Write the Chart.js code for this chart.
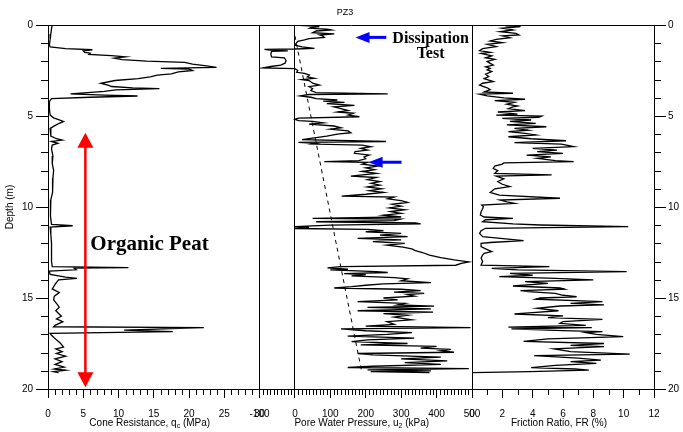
<!DOCTYPE html>
<html>
<head>
<meta charset="utf-8">
<script src="https://cdn.jsdelivr.net/npm/chart.js@4.4.1/dist/chart.umd.min.js"></script>
<style>
  html, body { margin: 0; padding: 0; background: #ffffff; }
  #wrap { width: 683px; height: 432px; }
</style>
</head>
<body>
<div id="wrap"><canvas id="c" width="683" height="432"></canvas></div>
<script>
// ---------------- data ----------------
const depthRange = [0, 20];
const qcRange = [0, 30];
const u2Range = [-100, 500];
const frRange = [0, 12];

// Cone resistance q_c (MPa) vs depth (m)
const qcDepth = [0,0.2,0.5,0.8,1.1,1.2,1.3,1.36,1.42,1.5,
  1.55,1.62,1.68,1.75,1.82,1.9,1.98,2.05,2.15,2.25,
  2.33,2.38,2.42,2.5,2.58,2.68,2.75,2.85,2.95,3.05,
  3.2,3.3,3.38,3.45,3.5,3.57,3.65,3.78,3.85,3.9,
  3.97,4.05,4.2,4.6,4.95,5.1,5.2,5.3,5.4,5.5,
  5.68,6.1,6.25,6.32,6.4,6.5,6.6,6.8,7.2,7.6,
  8.0,8.4,8.8,9.2,9.6,10.0,10.5,10.95,11.03,11.1,
  11.5,12.0,12.5,13.0,13.28,13.33,13.36,13.45,13.52,13.7,
  13.85,13.92,14.0,14.2,14.5,14.7,14.9,15.1,15.3,15.5,
  15.7,16.0,16.15,16.3,16.5,16.58,16.63,16.76,16.85,16.94,
  17.05,17.3,17.5,17.7,17.8,17.95,18.05,18.2,18.35,18.5,
  18.65,18.8,18.9,18.97,19.05,19.1];
const qcValue = [0.6,0.5,0.4,0.3,0.2,0.3,2.5,6.3,5.0,5.2,
  6.0,5.8,9.0,11.0,9.4,10.5,14.0,19.4,20.5,22.5,
  23.9,16.0,20.0,20.5,18.5,17.5,15.5,14.5,12.8,9.5,
  7.5,8.5,9.0,12.0,15.8,9.6,8.0,3.2,8.0,12.7,
  6.0,0.5,0.2,0.2,0.3,0.8,1.5,2.2,1.6,1.1,
  0.3,0.4,1.2,2.0,0.5,1.4,0.6,0.5,0.7,0.6,
  0.8,0.7,0.6,0.7,0.4,0.3,0.4,0.5,3.5,0.3,
  0.4,0.5,0.5,0.5,0.6,11.4,3.7,4.0,0.2,0.3,
  2.5,4.1,1.5,1.1,0.6,1.6,0.9,0.8,1.2,1.6,
  1.1,1.9,1.2,2.1,1.0,0.8,22.1,10.8,17.7,0.3,
  0.5,1.2,1.8,2.2,1.1,2.0,1.2,2.5,1.0,2.0,
  1.0,2.3,0.9,2.5,0.8,1.5];

// Pore water pressure u_2 (kPa) vs depth (m)
const u2Depth = [0,0.05,0.09,0.14,0.18,0.23,0.27,0.33,0.42,0.49,
  0.55,0.6,0.68,0.75,0.82,0.9,0.97,1.1,1.2,1.28,
  1.32,1.34,1.38,1.42,1.45,1.6,1.75,1.8,1.95,2.1,
  2.2,2.28,2.36,2.4,2.5,2.6,2.66,2.75,2.85,2.93,
  3.0,3.05,3.2,3.3,3.39,3.5,3.6,3.72,3.78,3.82,
  3.9,3.97,4.05,4.12,4.18,4.25,4.32,4.42,4.5,4.6,
  4.7,4.78,4.85,4.95,5.04,5.12,5.18,5.25,5.3,5.38,
  5.45,5.55,5.65,5.72,5.82,5.92,6.0,6.1,6.2,6.3,
  6.4,6.45,6.5,6.54,6.6,6.69,6.78,6.87,6.95,7.05,
  7.15,7.25,7.35,7.45,7.51,7.55,7.65,7.75,7.85,7.95,
  8.05,8.15,8.3,8.38,8.5,8.6,8.7,8.8,8.9,9.0,
  9.1,9.2,9.3,9.4,9.45,9.55,9.65,9.75,9.85,9.95,
  10.05,10.15,10.25,10.35,10.45,10.55,10.62,10.66,10.75,10.81,
  10.88,10.93,11.0,11.08,11.12,11.18,11.23,11.3,11.36,11.45,
  11.55,11.63,11.72,11.81,11.9,12.0,12.09,12.2,12.3,12.4,
  12.5,12.64,12.78,12.91,13.02,13.1,13.2,13.28,13.35,13.42,
  13.46,13.55,13.6,13.66,13.72,13.78,13.88,13.95,14.05,14.15,
  14.22,14.3,14.38,14.45,14.52,14.6,14.68,14.75,14.82,14.9,
  15.0,15.1,15.2,15.3,15.38,15.45,15.52,15.6,15.7,15.78,
  15.86,15.95,16.05,16.2,16.3,16.45,16.55,16.63,16.7,16.8,
  16.9,17.0,17.1,17.2,17.3,17.4,17.5,17.58,17.66,17.75,
  17.82,17.9,17.98,18.05,18.12,18.25,18.35,18.45,18.55,18.65,
  18.75,18.82,18.88,18.95,19.0,19.05,19.1];
const u2Value = [0,40,69,45,41,90,102,60,50,111,
  70,78,83,40,27,8,5,0,20,55,
  0,-86,-70,-20,-66,-68,-66,-30,-25,-28,
  -40,-68,-90,0,8,5,27,41,35,55,
  20,40,50,69,40,50,45,60,262,40,
  15,45,60,120,80,140,90,168,110,130,
  150,120,165,150,182,10,0,10,50,80,
  40,110,130,100,150,158,120,90,55,20,
  257,10,60,50,190,215,186,205,170,168,
  210,195,200,180,83,205,190,235,200,225,
  190,230,158,230,205,240,215,240,205,245,
  210,250,200,132,280,262,300,318,275,300,
  267,310,270,300,250,300,50,299,280,60,
  340,355,100,0,40,0,205,250,200,300,
  240,318,177,300,220,310,260,305,330,340,
  360,380,412,450,491,470,454,130,92,150,
  100,230,262,139,200,160,280,318,300,384,
  250,200,160,111,300,355,280,365,318,337,
  250,290,177,310,290,393,205,384,177,390,
  250,318,280,330,260,280,200,496,130,200,
  330,260,149,337,205,160,318,186,400,355,
  440,412,449,177,220,412,300,430,310,412,
  220,149,491,205,384,214,380];

// Hydrostatic reference line (dashed)
const hydroDepth = [0.6, 19.0];
const hydroU = [0, 188];

// Friction ratio FR (%) vs depth (m)
const frDepth = [0.05,0.09,0.18,0.27,0.37,0.46,0.55,0.6,0.7,0.79,
  0.88,0.97,1.06,1.19,1.3,1.41,1.5,1.56,1.7,1.8,
  1.89,2.0,2.11,2.2,2.3,2.38,2.47,2.56,2.7,2.84,
  2.95,3.11,3.2,3.3,3.45,3.55,3.68,3.75,3.8,3.9,
  4.0,4.08,4.15,4.25,4.35,4.45,4.5,4.6,4.7,4.78,
  4.9,4.95,5.0,5.07,5.13,5.22,5.3,5.4,5.49,5.59,
  5.68,5.78,5.86,5.95,6.04,6.14,6.25,6.36,6.46,6.55,
  6.68,6.78,6.88,6.96,7.05,7.15,7.25,7.33,7.45,7.51,
  7.58,7.64,7.75,7.88,8.0,8.15,8.24,8.3,8.45,8.6,
  8.75,8.88,9.0,9.2,9.35,9.52,9.62,9.72,9.8,9.89,
  9.98,10.1,10.26,10.44,10.55,10.62,10.7,10.81,10.93,10.99,
  11.08,11.17,11.3,11.45,11.63,11.85,11.95,12.0,12.18,12.3,
  12.45,12.55,12.64,12.8,13.0,13.19,13.28,13.37,13.45,13.55,
  13.65,13.75,13.83,13.92,14.0,14.1,14.2,14.34,14.45,14.52,
  14.6,14.65,14.75,14.85,14.93,15.0,15.07,15.2,15.3,15.38,
  15.44,15.57,15.7,15.8,15.88,15.98,16.08,16.17,16.3,16.39,
  16.5,16.6,16.63,16.7,16.79,16.85,16.9,17.0,17.12,17.25,
  17.38,17.5,17.6,17.67,17.8,17.88,17.95,18.08,18.17,18.3,
  18.41,18.5,18.59,18.7,18.83,18.9,18.96,19.05,19.1];
const frValue = [2.2,3.2,2.0,2.7,1.85,2.9,3.1,2.0,2.5,1.6,
  1.2,2.0,1.0,1.6,0.7,0.5,1.2,0.6,1.3,0.9,
  1.5,1.0,1.2,1.4,0.9,1.2,1.0,1.3,0.9,1.1,
  0.8,1.4,0.7,0.5,1.0,1.2,0.8,2.7,0.5,1.0,
  2.1,3.5,1.5,2.8,2.3,3.0,2.7,2.4,3.5,1.7,
  3.0,1.6,4.6,4.4,2.0,3.9,2.5,4.2,2.3,4.9,
  2.8,3.7,2.4,3.5,4.2,2.4,3.9,6.2,2.8,5.9,
  6.7,4.0,5.6,4.3,6.0,3.6,5.2,4.3,5.5,6.7,
  2.1,2.0,1.5,1.4,1.7,1.5,5.25,1.6,2.1,1.7,
  2.0,2.5,1.5,1.2,1.8,5.8,1.85,2.3,2.8,0.64,
  0.75,0.7,0.6,0.55,0.8,2.7,0.9,0.7,2.7,4.5,
  10.3,0.9,0.6,0.5,0.7,3.4,1.2,0.6,0.6,0.9,
  1.3,0.8,0.7,0.6,0.7,0.6,5.1,1.3,3.0,10.2,
  2.5,4.0,1.8,5.5,8.0,3.5,5.0,2.7,5.8,6.1,
  3.2,3.7,5.5,6.0,6.9,4.5,4.2,8.6,6.5,8.7,
  5.8,4.3,5.7,4.0,2.8,6.0,5.0,8.6,6.0,5.8,
  7.5,2.4,7.9,2.6,6.0,8.6,7.5,8.2,9.97,5.0,
  3.4,8.7,6.5,8.7,5.4,6.0,6.5,10.4,4.1,7.0,
  8.5,6.5,8.2,5.5,3.9,6.8,7.7,3.8,0];

// Text
const chartTitle = 'PZ3';
const depthTitle = 'Depth (m)';
const axisTitles = {
  x1: ['Cone Resistance, q', 'c', ' (MPa)'],
  x2: ['Pore Water Pressure, u', '2', ' (kPa)'],
  x3: ['Friction Ratio, FR (%)', '', '']
};

// Annotations (data coordinates)
const peatArrow = { q: 5.3, top: 5.92, bottom: 19.9 };
const peatLabel = { q: 6.0, depth: 12.36, text: 'Organic Peat' };
const dissArrows = [ { tip: 171, tail: 258, depth: 0.68 }, { tip: 208, tail: 301, depth: 7.54 } ];
const dissLabel = { u: 383, depths: [0.97, 1.83], lines: ['Dissipation', 'Test'] };

// ---------------- chart ----------------
const FONT = '"Liberation Sans", Arial, Helvetica, sans-serif';
const SERIF = '"Liberation Serif", "Times New Roman", Times, serif';
const BLACK = '#000000';
const NONE = 'rgba(0,0,0,0)';

const toPoints = (depths, values) => values.map((v, i) => ({ x: v, y: depths[i] }));
const lineSet = (label, xId, depths, values, extra) => Object.assign({
  label, xAxisID: xId, yAxisID: 'y', data: toPoints(depths, values),
  showLine: true, borderColor: BLACK, borderWidth: 1.3, pointRadius: 0, pointHoverRadius: 0,
  fill: false, tension: 0
}, extra || {});

const isMul = (v, m) => Math.abs(v / m - Math.round(v / m)) < 1e-9;

function xScale(range, step, labelEvery, weight, separators) {
  return {
    type: 'linear', position: 'bottom', stack: 'bottom', stackWeight: weight,
    min: range[0], max: range[1],
    ticks: {
      stepSize: step, autoSkip: false, maxRotation: 0, minRotation: 0, maxTicksLimit: 1000,
      callback: v => (isMul(v, labelEvery) ? String(v) : ''),
      color: BLACK, font: { size: 10, family: FONT }, padding: 10
    },
    grid: {
      drawOnChartArea: true, drawTicks: true, tickLength: 9, lineWidth: 1, tickWidth: 1,
      color: c => (c.tick && separators.includes(c.tick.value) ? BLACK : NONE),
      tickColor: c => (c.tick && isMul(c.tick.value, labelEvery) ? BLACK : NONE)
    },
    border: { display: true, color: BLACK, width: 1 },
    afterFit: s => { s.height = 43; }
  };
}

function yScale(pos, width, withTitle, drawTop) {
  return {
    type: 'linear', position: pos, reverse: true, min: depthRange[0], max: depthRange[1],
    ticks: {
      stepSize: 1, autoSkip: false, maxTicksLimit: 1000,
      callback: v => (isMul(v, 5) ? String(v) : ''),
      color: BLACK, font: { size: 10, family: FONT }, padding: pos === 'left' ? 3 : 2
    },
    grid: {
      drawOnChartArea: drawTop, drawTicks: true, tickLength: 12, lineWidth: 1,
      color: c => (c.tick && c.tick.value === 0 ? BLACK : NONE),
      tickColor: c => (c.tick && isMul(c.tick.value, 5) ? BLACK : NONE)
    },
    border: { display: true, color: BLACK, width: 1 },
    title: { display: withTitle, text: depthTitle, color: BLACK, font: { size: 10, family: FONT }, padding: { top: 4, bottom: 0 } },
    afterFit: s => { s.width = width; }
  };
}

const MINOR = [['y', 5, 7], ['y2', 5, 7], ['x1', 5, 6], ['x2', 100, 6], ['x3', 2, 6]];

const minorTicks = {
  id: 'minorTicks',
  afterDraw(chart) {
    const ctx = chart.ctx;
    ctx.save();
    ctx.strokeStyle = BLACK; ctx.lineWidth = 1;
    for (const [id, every, len] of MINOR) {
      const s = chart.scales[id];
      if (!s) continue;
      for (const t of s.ticks) {
        if (isMul(t.value, every)) continue;
        const p = Math.round(s.getPixelForValue(t.value)) + 0.5;
        ctx.beginPath();
        if (s.isHorizontal()) { ctx.moveTo(p, s.top); ctx.lineTo(p, s.top + len); }
        else if (s.position === 'left') { ctx.moveTo(s.right, p); ctx.lineTo(s.right - len, p); }
        else { ctx.moveTo(s.left, p); ctx.lineTo(s.left + len, p); }
        ctx.stroke();
      }
    }
    ctx.restore();
  }
};

const textDeco = {
  id: 'textDeco',
  afterDraw(chart) {
    const ctx = chart.ctx;
    const area = chart.chartArea;
    ctx.save();
    ctx.fillStyle = BLACK;
    // title
    ctx.font = '9px ' + FONT;
    ctx.textAlign = 'center'; ctx.textBaseline = 'middle';
    ctx.fillText(chartTitle, (area.left + area.right) / 2 - 6, 13);
    // axis titles with subscripts
    ctx.textAlign = 'left'; ctx.textBaseline = 'alphabetic';
    for (const id of Object.keys(axisTitles)) {
      const s = chart.scales[id];
      const [a, sub, b] = axisTitles[id];
      ctx.font = '10px ' + FONT; const wa = ctx.measureText(a).width; const wb = ctx.measureText(b).width;
      ctx.font = '7px ' + FONT; const ws = ctx.measureText(sub).width;
      let x = (s.left + s.right) / 2 - 4 - (wa + ws + wb) / 2;
      const base = s.top + 36.5;
      ctx.font = '10px ' + FONT; ctx.fillText(a, x, base); x += wa;
      ctx.font = '7px ' + FONT; ctx.fillText(sub, x, base + 2.5); x += ws;
      ctx.font = '10px ' + FONT; ctx.fillText(b, x, base);
    }
    ctx.restore();
  },
  afterDatasetsDraw(chart) {
    const ctx = chart.ctx;
    const { x1, x2, y } = chart.scales;
    ctx.save();
    // red double-headed arrow
    const ax = x1.getPixelForValue(peatArrow.q);
    const yt = y.getPixelForValue(peatArrow.top);
    const yb = y.getPixelForValue(peatArrow.bottom);
    ctx.strokeStyle = '#ff0000'; ctx.fillStyle = '#ff0000'; ctx.lineWidth = 2.5;
    ctx.beginPath(); ctx.moveTo(ax, yt + 12); ctx.lineTo(ax, yb - 12); ctx.stroke();
    ctx.beginPath(); ctx.moveTo(ax, yt); ctx.lineTo(ax - 8, yt + 15); ctx.lineTo(ax + 8, yt + 15); ctx.closePath(); ctx.fill();
    ctx.beginPath(); ctx.moveTo(ax, yb); ctx.lineTo(ax - 8, yb - 15); ctx.lineTo(ax + 8, yb - 15); ctx.closePath(); ctx.fill();
    // Organic Peat label
    ctx.fillStyle = BLACK;
    ctx.font = 'bold 21px ' + SERIF;
    ctx.textAlign = 'left'; ctx.textBaseline = 'alphabetic';
    ctx.fillText(peatLabel.text, x1.getPixelForValue(peatLabel.q), y.getPixelForValue(peatLabel.depth));
    // blue arrows
    ctx.strokeStyle = '#0000ff'; ctx.fillStyle = '#0000ff'; ctx.lineWidth = 3;
    for (const a of dissArrows) {
      const tx = x2.getPixelForValue(a.tip), ex = x2.getPixelForValue(a.tail), py = y.getPixelForValue(a.depth);
      ctx.beginPath(); ctx.moveTo(tx + 10, py); ctx.lineTo(ex, py); ctx.stroke();
      ctx.beginPath(); ctx.moveTo(tx, py); ctx.lineTo(tx + 14, py - 5.5); ctx.lineTo(tx + 14, py + 5.5); ctx.closePath(); ctx.fill();
    }
    // Dissipation Test label
    ctx.fillStyle = BLACK;
    ctx.font = 'bold 16px ' + SERIF;
    ctx.textAlign = 'center';
    dissLabel.lines.forEach((t, i) => ctx.fillText(t, x2.getPixelForValue(dissLabel.u), y.getPixelForValue(dissLabel.depths[i])));
    ctx.restore();
  }
};

new Chart(document.getElementById('c'), {
  type: 'scatter',
  data: {
    datasets: [
      lineSet('Cone Resistance', 'x1', qcDepth, qcValue),
      lineSet('Hydrostatic', 'x2', hydroDepth, hydroU, { borderDash: [4, 4], borderWidth: 1 }),
      lineSet('Pore Water Pressure', 'x2', u2Depth, u2Value),
      lineSet('Friction Ratio', 'x3', frDepth, frValue)
    ]
  },
  options: {
    responsive: false, animation: false, devicePixelRatio: 1,
    layout: { padding: { top: 25, left: 0, right: 0, bottom: 0 } },
    plugins: { legend: { display: false }, tooltip: { enabled: false }, title: { display: false } },
    scales: {
      x1: xScale(qcRange, 1, 5, 211.5, [30]),
      x2: xScale(u2Range, 10, 100, 212.5, [-100, 0, 500]),
      x3: xScale(frRange, 1, 2, 182, [0]),
      y: yScale('left', 48, true, true),
      y2: yScale('right', 29, false, false)
    }
  },
  plugins: [minorTicks, textDeco]
});
</script>
</body>
</html>
